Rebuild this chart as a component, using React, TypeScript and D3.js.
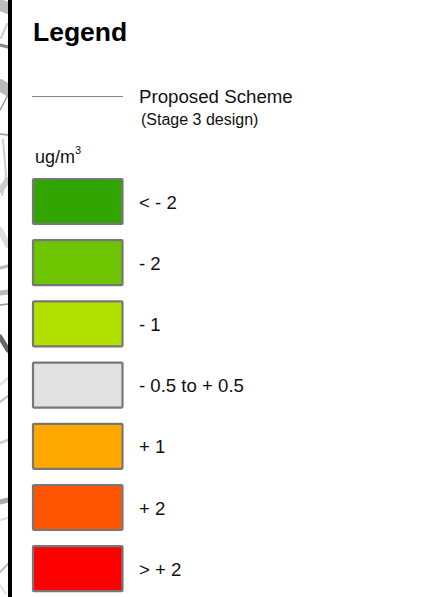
import React from "react";
import * as d3 from "d3";

const categories = ["< - 2", "- 2", "- 1", "- 0.5 to + 0.5", "+ 1", "+ 2", "> + 2"];
const swatchColors = ["#33a500", "#6cc500", "#b2e100", "#e1e1e1", "#ffa800", "#ff5500", "#ff0000"];
// background map fragments visible left of the frame: [x, y] polylines with a grey level and width
const mapLines: { pts: [number, number][]; c: string; w: number }[] = [
  { pts: [[0, 5], [8, 8]], c: "#bbb", w: 12 },
  { pts: [[1, 38], [7, 24]], c: "#ccc", w: 2 },
  { pts: [[0, 45], [8, 47]], c: "#888", w: 3 },
  { pts: [[0, 85], [8, 90]], c: "#bbb", w: 12 },
  { pts: [[0, 110], [8, 95]], c: "#999", w: 1.5 },
  { pts: [[0, 134], [8, 135]], c: "#999", w: 1.5 },
  { pts: [[3, 140], [6, 175], [2, 195]], c: "#ccc", w: 2 },
  { pts: [[0, 190], [8, 180]], c: "#ccc", w: 6 },
  { pts: [[0, 230], [8, 245]], c: "#ddd", w: 6 },
  { pts: [[0, 268], [8, 266]], c: "#bbb", w: 3 },
  { pts: [[0, 293], [8, 292]], c: "#bbb", w: 5 },
  { pts: [[0, 305], [8, 304]], c: "#999", w: 1.5 },
  { pts: [[0, 337], [8, 350]], c: "#666", w: 5 },
  { pts: [[0, 385], [8, 378]], c: "#ddd", w: 2 },
  { pts: [[0, 402], [8, 396]], c: "#bbb", w: 2 },
  { pts: [[0, 443], [8, 440]], c: "#ccc", w: 2.5 },
  { pts: [[0, 502], [8, 500]], c: "#aaa", w: 5 },
  { pts: [[0, 520], [8, 518]], c: "#ddd", w: 2 },
  { pts: [[0, 572], [8, 564]], c: "#bbb", w: 2 },
  { pts: [[0, 585], [6, 594]], c: "#ddd", w: 1.5 },
];
const font = "Liberation Sans, Arial, sans-serif";

export default function App() {
  const y = d3.scaleBand<string>().domain(categories).range([178, 178 + 61.2 * 7]);
  const line = d3.line();
  return (
    <svg width={445} height={597} style={{ position: "fixed", left: 0, top: 0, background: "#fff" }} fontFamily={font}>
      <defs>
        <clipPath id="strip"><rect x={0} y={0} width={8} height={597} /></clipPath>
        <filter id="soft"><feGaussianBlur stdDeviation={0.7} /></filter>
      </defs>
      <g clipPath="url(#strip)">
        <g fill="none" strokeLinecap="round" filter="url(#soft)">
          {mapLines.map((m, i) => <path key={i} d={line(m.pts)!} stroke={m.c} strokeWidth={m.w} />)}
        </g>
      </g>
      <rect x={8} y={0} width={4} height={597} fill="#000" />
      <text x={33} y={41} fontSize={26.5} fontWeight="bold" fill="#000">Legend</text>
      <line x1={32} x2={123} y1={96.5} y2={96.5} stroke="#888" strokeWidth={1} />
      <text x={139} y={102.5} fontSize={18.7} fill="#111">Proposed Scheme</text>
      <text x={141} y={125} fontSize={16} fill="#111">(Stage 3 design)</text>
      <text x={35} y={163} fontSize={18} fill="#111">ug/m<tspan dy={-9} fontSize={11}>3</tspan></text>
      {categories.map((c, i) => (
        <g key={c}>
          <rect x={33} y={y(c)! + 1} width={89.5} height={45} rx={1} fill={swatchColors[i]} stroke="#777" strokeWidth={2.2} />
          <text x={139} y={y(c)! + 30.5} fontSize={18.6} fill="#111">{c}</text>
        </g>
      ))}
    </svg>
  );
}
